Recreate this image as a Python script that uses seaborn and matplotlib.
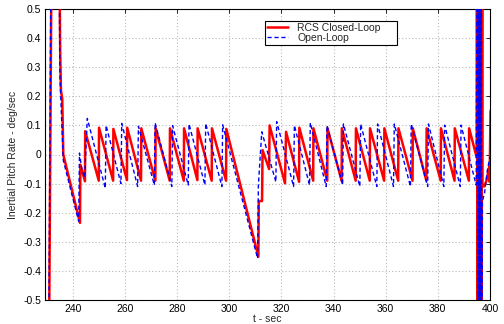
import matplotlib
matplotlib.use("Agg")
import matplotlib.pyplot as plt
import seaborn as sns
import pandas as pd
from matplotlib.ticker import FuncFormatter

# ---- data (time in s, rate in deg/sec) ----
red_t = [230.9, 231.9, 234.9, 235.2, 235.5, 236.0, 236.4, 242.8, 242.95, 244.7, 244.8,
         250.0, 250.1, 255.5, 255.6, 260.8, 260.9, 266.2, 266.3, 271.7, 271.8,
         277.2, 277.3, 282.6, 282.7, 287.8, 287.9, 293.3, 293.4, 298.8, 298.9,
         311.2, 311.35, 312.6, 312.8, 315.3, 315.5,
         321.4, 321.8, 326.8, 326.9, 332.2, 332.3, 337.6, 337.7, 343.1, 343.2,
         348.5, 348.6, 353.9, 354.0, 359.4, 359.5, 364.8, 364.9, 370.3, 370.4,
         375.6, 375.7, 381.1, 381.2, 386.4, 386.5, 391.9, 392.0, 394.9,
         395.0, 395.25, 395.5, 395.75, 396.0, 396.25, 396.5, 396.75, 397.0,
         397.1, 397.8, 398.7, 399.7, 399.85, 400.2]
red_v = [-0.7, 0.7, 0.7, 0.36, 0.22, 0.19, 0.0, -0.235, -0.035, -0.092, 0.08,
         -0.09, 0.092, -0.09, 0.088, -0.088, 0.092, -0.09, 0.09, -0.09, 0.09,
         -0.09, 0.09, -0.09, 0.09, -0.088, 0.09, -0.09, 0.09, -0.09, 0.088,
         -0.351, -0.16, -0.16, 0.015, -0.05, 0.10,
         -0.099, 0.078, -0.094, 0.092, -0.09, 0.09, -0.09, 0.09, -0.09, 0.09,
         -0.09, 0.09, -0.09, 0.09, -0.09, 0.09, -0.09, 0.09, -0.09, 0.09,
         -0.09, 0.09, -0.09, 0.09, -0.09, 0.09, -0.09, 0.09, -0.01,
         0.8, -0.8, 0.8, -0.8, 0.8, -0.8, 0.8, -0.8, 0.8,
         -0.105, -0.11, -0.088, -0.042, -0.094, 0.15]

blue_t = [230.8, 231.7, 234.8, 235.1, 236.4, 242.3, 242.6, 243.5, 244.6, 245.6,
          252.5, 252.8, 258.5, 258.8, 264.9, 265.2, 271.3, 271.6, 278.0, 278.3,
          284.3, 284.6, 290.7, 291.0, 297.2, 297.5,
          310.9, 311.2, 312.5, 317.9, 318.2, 324.7, 325.0, 330.8, 331.1,
          337.2, 337.5, 343.5, 343.8, 350.1, 350.4, 356.6, 356.9, 363.0, 363.3,
          369.5, 369.8, 376.1, 376.4, 382.3, 382.6, 388.6, 388.9, 394.7,
          395.1, 395.35, 395.6, 395.85, 396.1, 396.35, 396.6, 396.85,
          397.1, 397.9, 399.0, 400.0]
blue_v = [-0.7, 0.7, 0.7, 0.27, -0.02, -0.23, 0.005, -0.05, -0.08, 0.124,
          -0.116, 0.10, -0.10, 0.107, -0.11, 0.097, -0.105, 0.109, -0.11, 0.099,
          -0.105, 0.105, -0.105, 0.107, -0.11, 0.102,
          -0.357, -0.105, 0.078, -0.094, 0.113, -0.11, 0.10, -0.105, 0.109,
          -0.11, 0.10, -0.105, 0.105, -0.11, 0.105, -0.11, 0.105, -0.11, 0.105,
          -0.11, 0.105, -0.11, 0.105, -0.11, 0.101, -0.11, 0.101, -0.105,
          0.8, -0.8, 0.8, -0.8, 0.8, -0.8, 0.8, -0.8,
          -0.16, -0.133, -0.053, -0.007]

x_ticks = [240, 260, 280, 300, 320, 340, 360, 380, 400]
y_ticks = [-0.5, -0.4, -0.3, -0.2, -0.1, 0, 0.1, 0.2, 0.3, 0.4, 0.5]
series_labels = ["RCS Closed-Loop", "Open-Loop"]

sns.set_theme(style="white")
plt.rcParams["font.family"] = ["Liberation Sans", "DejaVu Sans"]

red_df = pd.DataFrame({"t": red_t, "rate": red_v})
blue_df = pd.DataFrame({"t": blue_t, "rate": blue_v})

fig = plt.figure(figsize=(5.04, 3.24), dpi=100)
ax = fig.add_axes([45.3 / 504, 24 / 324, 444.7 / 504, 291 / 324])

sns.lineplot(data=red_df, x="t", y="rate", sort=False, estimator=None,
             color="#ff0000", linewidth=1.8, label=series_labels[0], ax=ax, zorder=3)
sns.lineplot(data=blue_df, x="t", y="rate", sort=False, estimator=None,
             color="#0000ff", linewidth=1.0, linestyle="--", label=series_labels[1],
             ax=ax, zorder=4)
ax.lines[-1].set_dashes([3, 2])

ax.set_xlim(229.5, 400)
ax.set_ylim(-0.5, 0.5)
ax.set_xticks(x_ticks)
ax.set_yticks(y_ticks)
ax.yaxis.set_major_formatter(FuncFormatter(lambda v, p: "0" if abs(v) < 1e-9 else f"{v:.1f}"))
ax.tick_params(direction="in", top=True, right=True, length=3, width=0.6,
               labelsize=7.5, pad=3, colors="black")
ax.grid(True, linestyle=(0, (1, 2)), color="#b8b8b8", linewidth=0.8)
for s in ax.spines.values():
    s.set_color("black")
    s.set_linewidth(0.8)

ax.set_xlabel("t - sec", fontsize=7.5, labelpad=0)
ax.set_ylabel("Inertial Pitch Rate - deg/sec", fontsize=7.5, labelpad=4)

leg = ax.legend(loc="upper left", bbox_to_anchor=(0.494, 0.859, 0.297, 0.1),
                mode="expand", borderaxespad=0,
                fontsize=7.5, fancybox=False, framealpha=1, edgecolor="black",
                handlelength=2.0, handletextpad=0.9, borderpad=0.2, labelspacing=0.0)
leg.get_frame().set_linewidth(0.8)
leg.get_lines()[1].set_dashes([3, 2])

fig.savefig("out.png", dpi=100)
